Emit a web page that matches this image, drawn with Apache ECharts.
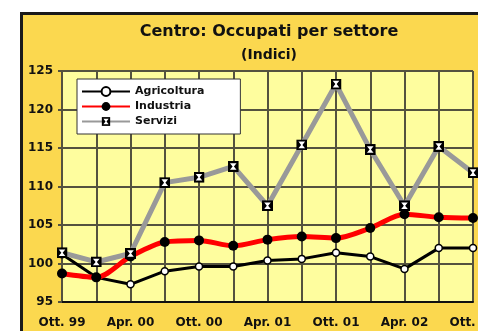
<!DOCTYPE html>
<html>
<head>
<meta charset="utf-8">
<script src="https://cdn.jsdelivr.net/npm/echarts@6/dist/echarts.min.js"></script>
<style>
  html, body { margin: 0; padding: 0; background: #ffffff; }
  #chart { width: 478px; height: 331px; }
</style>
</head>
<body>
<div id="chart"></div>
<script>
// Quarterly periods (Oct 1999 - Oct 2002)
const categories = ['Ott. 99', 'Gen. 00', 'Apr. 00', 'Lug. 00', 'Ott. 00', 'Gen. 01', 'Apr. 01',
                    'Lug. 01', 'Ott. 01', 'Gen. 02', 'Apr. 02', 'Lug. 02', 'Ott. 02'];

// Employment indices by sector
const agricoltura = [101.2, 98.2, 97.3, 99.0, 99.6, 99.6, 100.4, 100.6, 101.4, 100.9, 99.3, 102.0, 102.0];
const industria   = [98.7, 98.2, 100.9, 102.8, 103.0, 102.3, 103.1, 103.5, 103.3, 104.6, 106.4, 106.0, 105.9];
const servizi     = [101.4, 100.2, 101.3, 110.5, 111.2, 112.6, 107.5, 115.4, 123.3, 114.8, 107.5, 115.2, 111.8];

// Y axis range and step
const yMin = 95, yMax = 125, yStep = 5;

// Black square marker with a white hourglass inside
const serviziSvg = '<svg xmlns="http://www.w3.org/2000/svg" width="22" height="22" viewBox="0 0 10 10">' +
  '<rect x="0" y="0" width="10" height="10" fill="#000"/>' +
  '<polygon points="2,2 8,2 5.6,5 8,8 2,8 4.4,5" fill="#fff"/></svg>';
const serviziSymbol = 'image://data:image/svg+xml;charset=utf-8,' + encodeURIComponent(serviziSvg);

const chart = echarts.init(document.getElementById('chart'), null, { renderer: 'canvas' });

const gridColor = '#54523f';
const font = 'DejaVu Sans';

chart.setOption({
  backgroundColor: '#ffffff',
  animation: false,
  graphic: [
    {
      type: 'rect',
      z: -10,
      shape: { x: 21.5, y: 13.5, width: 600, height: 400 },
      style: { fill: '#fbd84f', stroke: '#1a1a1a', lineWidth: 3 }
    },
    {
      type: 'text',
      x: 269, y: 32,
      style: {
        text: 'Centro: Occupati per settore',
        fill: '#111', font: 'bold 16px "DejaVu Sans"',
        align: 'center', verticalAlign: 'middle'
      }
    },
    {
      type: 'text',
      x: 269, y: 55,
      style: {
        text: '(Indici)',
        fill: '#111', font: 'bold 14px "DejaVu Sans"',
        align: 'center', verticalAlign: 'middle'
      }
    }
  ],
  legend: {
    orient: 'vertical',
    left: 77, top: 79,
    padding: [7, 36, 7, 4],
    itemWidth: 48, itemHeight: 11, itemGap: 4,
    backgroundColor: '#ffffff',
    borderColor: '#333333', borderWidth: 1,
    textStyle: { fontFamily: font, fontWeight: 'bold', fontSize: 11, color: '#111' },
    data: ['Agricoltura', 'Industria', 'Servizi']
  },
  grid: {
    left: 62, right: 5, top: 71, bottom: 29,
    containLabel: false, outerBoundsMode: 'none',
    backgroundColor: '#fefd9e', show: true, borderWidth: 0
  },
  xAxis: {
    type: 'category',
    data: categories,
    boundaryGap: false,
    axisLine: { show: true, lineStyle: { color: '#111', width: 2 } },
    axisTick: { show: false },
    axisLabel: {
      interval: 1, margin: 15, hideOverlap: false,
      fontFamily: font, fontWeight: 'bold', fontSize: 12, color: '#111',
      showMaxLabel: true
    },
    splitLine: { show: true, interval: 0, lineStyle: { color: gridColor, width: 2 } }
  },
  yAxis: {
    type: 'value',
    min: yMin, max: yMax, interval: yStep,
    axisLine: { show: true, lineStyle: { color: gridColor, width: 2 } },
    axisTick: { show: true, length: 4, lineStyle: { color: gridColor, width: 2 } },
    axisLabel: { margin: 9, fontFamily: font, fontWeight: 'bold', fontSize: 12, color: '#111' },
    splitLine: { show: true, lineStyle: { color: gridColor, width: 2 } }
  },
  series: [
    {
      name: 'Agricoltura',
      type: 'line',
      data: agricoltura,
      symbol: 'circle', symbolSize: 7,
      lineStyle: { color: '#000', width: 3 },
      itemStyle: { color: '#ffffff', borderColor: '#000', borderWidth: 1.5 }
    },
    {
      name: 'Industria',
      type: 'line',
      data: industria,
      smooth: 0.3,
      symbol: 'circle', symbolSize: 10,
      lineStyle: { color: '#ff0000', width: 5 },
      itemStyle: { color: '#000', borderWidth: 0 }
    },
    {
      name: 'Servizi',
      type: 'line',
      data: servizi,
      symbol: serviziSymbol, symbolSize: 11,
      lineStyle: { color: '#999999', width: 5 },
      itemStyle: { color: '#999999' }
    }
  ]
});
</script>
</body>
</html>
